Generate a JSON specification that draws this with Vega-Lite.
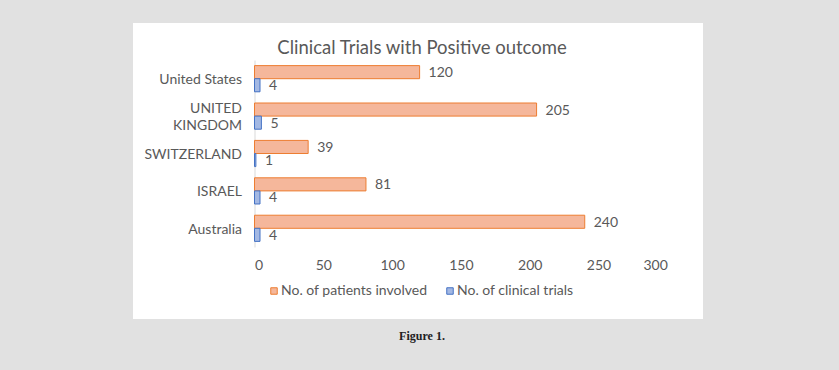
{
  "$schema": "https://vega.github.io/schema/vega-lite/v6.json",
  "width": 570,
  "height": 296,
  "autosize": {"type": "none"},
  "padding": {"left": 133, "top": 23, "right": 136, "bottom": 51},
  "background": "#e1e1e1",
  "config": {"view": {"fill": "white", "stroke": null}, "font": "Lato"},
  "title": {
    "text": "Clinical Trials with Positive outcome",
    "subtitle": "Figure 1.",
    "orient": "top",
    "anchor": "middle",
    "frame": "group",
    "offset": -319,
    "dx": 4,
    "fontSize": 18.5,
    "fontWeight": "normal",
    "color": "#595959",
    "font": "Lato",
    "subtitleFont": "Liberation Serif",
    "subtitleFontWeight": "bold",
    "subtitleFontSize": 12,
    "subtitleColor": "#222222",
    "subtitlePadding": 274
  },
  "data": {
    "values": [
      {"country": "United States", "series": "No. of patients involved", "value": 120},
      {"country": "United States", "series": "No. of clinical trials", "value": 4},
      {"country": "UNITED KINGDOM", "series": "No. of patients involved", "value": 205},
      {"country": "UNITED KINGDOM", "series": "No. of clinical trials", "value": 5},
      {"country": "SWITZERLAND", "series": "No. of patients involved", "value": 39},
      {"country": "SWITZERLAND", "series": "No. of clinical trials", "value": 1},
      {"country": "ISRAEL", "series": "No. of patients involved", "value": 81},
      {"country": "ISRAEL", "series": "No. of clinical trials", "value": 4},
      {"country": "Australia", "series": "No. of patients involved", "value": 240},
      {"country": "Australia", "series": "No. of clinical trials", "value": 4}
    ]
  },
  "encoding": {
    "y": {
      "field": "country",
      "type": "nominal",
      "sort": ["United States", "UNITED KINGDOM", "SWITZERLAND", "ISRAEL", "Australia"],
      "scale": {"range": [37, 224], "paddingInner": 0.3, "paddingOuter": 0.15},
      "axis": {
        "title": null,
        "offset": -121.5,
        "ticks": false,
        "domainColor": "#d9d9d9",
        "labelPadding": 13,
        "labelFontSize": 14,
        "labelColor": "#595959",
        "labelLineHeight": 17,
        "labelExpr": "datum.value == 'UNITED KINGDOM' ? ['UNITED', 'KINGDOM'] : datum.value",
        "labelOffset": {"condition": {"test": "datum.value == 'UNITED KINGDOM'", "value": -7.5}, "value": 1.5}
      }
    },
    "yOffset": {
      "field": "series",
      "type": "nominal",
      "sort": ["No. of patients involved", "No. of clinical trials"],
      "scale": {"paddingInner": 0, "paddingOuter": 0}
    },
    "x": {
      "field": "value",
      "type": "quantitative",
      "scale": {"domain": [0, 300], "range": [121.5, 534.3], "nice": false},
      "axis": {
        "title": null,
        "values": [0, 50, 100, 150, 200, 250, 300],
        "grid": false,
        "domain": false,
        "ticks": false,
        "offset": -61,
        "labelPadding": 0,
        "labelFontSize": 14,
        "labelColor": "#595959"
      }
    }
  },
  "layer": [
    {
      "mark": {"type": "bar", "strokeWidth": 1},
      "encoding": {
        "fill": {
          "field": "series",
          "type": "nominal",
          "scale": {"domain": ["No. of patients involved", "No. of clinical trials"], "range": ["#f5b79b", "#a3b8e3"]},
          "legend": {
            "orient": "none",
            "legendX": 134,
            "legendY": 261,
            "direction": "horizontal",
            "title": null,
            "symbolType": "square",
            "symbolSize": 42,
            "symbolStrokeWidth": 1,
            "labelFontSize": 14,
            "labelColor": "#595959",
            "labelOffset": 0,
            "columnPadding": 15
          }
        },
        "stroke": {
          "field": "series",
          "type": "nominal",
          "scale": {"domain": ["No. of patients involved", "No. of clinical trials"], "range": ["#ed7d31", "#4472c4"]},
          "legend": {
            "orient": "none",
            "legendX": 134,
            "legendY": 261,
            "direction": "horizontal",
            "title": null,
            "symbolType": "square",
            "symbolSize": 42,
            "symbolStrokeWidth": 1,
            "labelFontSize": 14,
            "labelColor": "#595959",
            "labelOffset": 0,
            "columnPadding": 15
          }
        }
      }
    },
    {
      "mark": {"type": "text", "align": "left", "baseline": "middle", "dx": 9, "dy": 1, "fontSize": 14, "color": "#595959"},
      "encoding": {"text": {"field": "value", "type": "quantitative"}}
    }
  ]
}
